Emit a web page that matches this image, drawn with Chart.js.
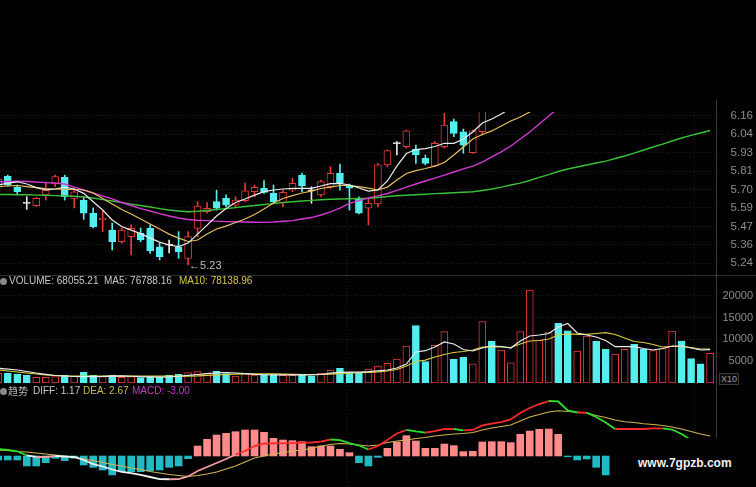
<!DOCTYPE html>
<html>
<head>
<meta charset="utf-8">
<script src="https://cdn.jsdelivr.net/npm/chart.js@4.4.0/dist/chart.umd.min.js"></script>
<style>
  html, body { margin: 0; padding: 0; background: #000; overflow: hidden; }
  #wrap { position: relative; width: 756px; height: 487px; background: #000; }
  canvas { position: absolute; left: 0; }
  .t { position: absolute; font: 10px "Liberation Sans", Arial, sans-serif; line-height: 12px; white-space: nowrap; }
  .dot { position: absolute; width: 7px; height: 7px; border-radius: 50%; background: #8a8a8a; }
  .sep { position: absolute; left: 0; width: 756px; height: 1px; background: #2e2e2e; }
</style>
</head>
<body>
<div id="wrap">
  <canvas id="price" width="756" height="184" style="top:100px"></canvas>
  <canvas id="vol" width="756" height="110" style="top:276px"></canvas>
  <canvas id="macd" width="756" height="101" style="top:386px"></canvas>

  <div class="sep" style="top:275px"></div>
  <div style="position:absolute;left:716px;top:100px;width:1px;height:338px;background:#3a3a3a"></div>

  <div class="dot" style="left:0;top:278px"></div>
  <span class="t" style="left:9px;top:275px;color:#c8c8c8">VOLUME: 68055.21</span>
  <span class="t" style="left:104px;top:275px;color:#c8c8c8">MA5: 76788.16</span>
  <span class="t" style="left:179px;top:275px;color:#d6c64c">MA10: 78138.96</span>
  <span class="t" style="left:719px;top:373px;color:#9a9a9a;font-size:9px;line-height:10px;border:1px solid #3a3a3a;padding:0 1px;background:#0a0a0a">X10</span>

  <div class="dot" style="left:0;top:388px"></div>
  <span class="t" style="left:8px;top:385px;color:#b8b8b8;font-family:'Noto Sans CJK SC',sans-serif">趋势</span>
  <span class="t" style="left:33px;top:385px;color:#c8c8c8">DIFF: 1.17</span>
  <span class="t" style="left:83px;top:385px;color:#cdbb52">DEA: 2.67</span>
  <span class="t" style="left:132px;top:385px;color:#c23cc2">MACD: -3.00</span>

  <div style="position:absolute;left:611px;top:438px;width:145px;height:49px;background:#000"></div>
  <span class="t" style="left:638px;top:456px;color:#f2f2f2;font-weight:bold;font-size:12px;line-height:14px">www.7gpzb.com</span>
</div>

<script>
// candles (only the part that is inside the price window)
const opens  = [5.716,5.784,5.714,5.615,5.599,5.666,5.734,5.776,5.645,5.634,5.552,5.510,5.447,5.374,5.406,5.427,5.458,5.343,5.355,5.341,5.271,5.458,5.562,5.624,5.645,5.603,5.630,5.686,5.707,5.676,5.618,5.696,5.790,5.694,5.666,5.717,5.801,5.728,5.639,5.583,5.610,5.853,5.986,5.967,5.951,5.894,5.846,5.967,6.123,6.060,5.929,6.060];
const closes = [5.765,5.728,5.686,5.613,5.645,5.696,5.780,5.655,5.686,5.552,5.468,5.522,5.374,5.447,5.458,5.385,5.318,5.281,5.353,5.312,5.406,5.597,5.583,5.583,5.603,5.634,5.692,5.714,5.682,5.624,5.682,5.739,5.722,5.691,5.749,5.801,5.739,5.709,5.552,5.614,5.853,5.942,5.986,6.066,5.915,5.863,5.988,6.102,6.050,5.977,6.066,6.200];
const highs  = [5.775,5.790,5.728,5.655,5.650,5.740,5.790,5.790,5.709,5.655,5.585,5.566,5.491,5.460,5.479,5.460,5.479,5.366,5.385,5.437,5.437,5.624,5.618,5.696,5.666,5.655,5.740,5.728,5.755,5.728,5.696,5.770,5.803,5.717,5.759,5.842,5.859,5.734,5.655,5.645,5.863,5.946,5.998,6.071,5.977,5.915,5.998,6.175,6.139,6.077,6.071,6.250];
const lows   = [5.700,5.722,5.666,5.576,5.595,5.634,5.717,5.634,5.585,5.514,5.460,5.437,5.323,5.366,5.292,5.374,5.302,5.261,5.304,5.271,5.230,5.406,5.552,5.572,5.593,5.593,5.624,5.655,5.676,5.614,5.593,5.686,5.686,5.614,5.655,5.707,5.696,5.572,5.547,5.479,5.593,5.842,5.915,5.957,5.863,5.853,5.842,5.957,6.029,5.926,5.926,6.040];

const ma5  = [5.728,5.740,5.748,5.734,5.712,5.697,5.703,5.715,5.703,5.676,5.624,5.572,5.510,5.469,5.447,5.425,5.397,5.372,5.354,5.344,5.366,5.422,5.478,5.535,5.581,5.619,5.641,5.665,5.687,5.697,5.703,5.707,5.707,5.707,5.722,5.737,5.738,5.728,5.709,5.690,5.697,5.753,5.846,5.924,5.949,5.955,5.968,5.988,5.988,6.015,6.058,6.114,6.139,6.170,6.208,6.245];
const ma10 = [5.718,5.722,5.725,5.718,5.712,5.706,5.703,5.701,5.700,5.697,5.678,5.644,5.609,5.575,5.547,5.516,5.485,5.454,5.422,5.397,5.376,5.385,5.422,5.454,5.472,5.494,5.516,5.544,5.578,5.616,5.644,5.662,5.678,5.690,5.706,5.715,5.725,5.725,5.718,5.709,5.697,5.715,5.759,5.800,5.818,5.831,5.846,5.868,5.915,5.965,6.015,6.043,6.065,6.096,6.127,6.152,6.183,6.214];
const ma20 = [5.748,5.750,5.751,5.750,5.747,5.743,5.740,5.734,5.715,5.697,5.678,5.659,5.641,5.619,5.600,5.581,5.566,5.550,5.535,5.522,5.513,5.508,5.506,5.503,5.500,5.499,5.497,5.496,5.495,5.497,5.502,5.506,5.516,5.525,5.541,5.560,5.584,5.613,5.631,5.647,5.660,5.675,5.694,5.715,5.734,5.753,5.771,5.790,5.809,5.828,5.846,5.871,5.903,5.934,5.971,6.015,6.058,6.108,6.158,6.208];
const ma60 = [5.669,5.669,5.667,5.667,5.665,5.664,5.662,5.661,5.658,5.653,5.647,5.637,5.628,5.619,5.609,5.600,5.591,5.581,5.572,5.566,5.561,5.564,5.569,5.575,5.581,5.587,5.594,5.600,5.606,5.612,5.619,5.624,5.628,5.632,5.636,5.639,5.641,5.642,5.644,5.645,5.650,5.656,5.661,5.664,5.667,5.670,5.674,5.677,5.680,5.683,5.686,5.694,5.703,5.715,5.728,5.740,5.756,5.775,5.793,5.812,5.828,5.840,5.853,5.865,5.877,5.893,5.909,5.927,5.946,5.965,5.983,6.002,6.021,6.037,6.052,6.068];

// volume (axis units, x10)
const volume = [2230,2230,2070,1770,1310,1310,1450,1840,1610,2460,1770,1450,1840,1310,1450,1220,1310,1310,1840,2000,2370,2600,2230,2760,2150,1610,2230,1840,1840,1900,1770,1770,2070,1610,2230,2990,3370,2370,2370,3220,3900,4520,5500,8500,13160,4900,8650,11800,5440,5900,4430,14080,9650,7580,4660,11800,21360,9880,11600,13700,12000,7350,10800,9650,7740,6660,7740,8880,7740,7420,7880,11940,9650,5580,4430,6806];
const volUp  = [1,0,0,0,1,1,1,0,1,0,0,1,0,1,1,0,0,0,0,0,1,1,1,0,0,1,1,1,0,0,1,1,0,0,1,1,0,0,0,1,1,1,1,1,0,0,1,1,0,0,1,1,0,1,1,1,1,1,1,0,0,1,1,0,0,1,1,0,0,1,1,1,0,0,0,1];
const volMa5  = [3380,3200,2990,2640,2300,2000,1720,1610,1490,1450,1450,1500,1600,1650,1550,1450,1400,1350,1400,1550,1750,1950,2150,2350,2400,2300,2150,2000,1900,1850,1850,1850,1850,1850,1950,2250,2450,2500,2500,2600,2800,2990,3450,4360,7120,7420,8270,9420,8960,7700,7350,8040,8500,8380,8040,9650,10800,11030,11370,12860,13670,11490,11030,10570,9760,8340,8340,8340,7920,7580,7920,8500,8500,8040,7580,7679];
const volMa10 = [2990,2760,2530,2300,2070,1840,1720,1610,1610,1600,1600,1600,1600,1600,1600,1600,1600,1600,1600,1600,1600,1650,1750,1850,1950,2050,2100,2100,2100,2100,2050,2000,1950,1950,1950,2050,2150,2250,2350,2450,2550,2760,3100,3900,4940,5240,5970,6550,7000,7240,7580,8270,8340,8270,8150,8960,9650,9760,10110,11030,11260,11190,11190,11370,11550,11140,10340,9530,9300,8840,8270,8380,8380,8150,7810,7814];

// MACD
const diff = [0.93,0.80,0.63,0.07,-0.13,-0.13,0,-0.07,-0.13,-0.53,-1.07,-1.4,-1.8,-2.13,-2.27,-2.53,-2.8,-3.07,-3.1,-3.07,-2.73,-2.0,-1.47,-0.93,-0.4,0.2,0.67,1.33,1.67,1.69,1.69,1.73,1.77,1.8,1.93,2.2,2.13,1.73,1.4,0.87,1.33,2.13,3.0,3.47,3.27,3.11,3.33,3.6,3.6,3.43,3.47,4.07,4.33,4.53,4.87,5.73,6.4,6.93,7.33,7.27,6.07,5.77,5.78,5.2,4.47,3.6,3.6,3.6,3.6,3.67,3.69,3.53,2.93,2.13,1.6,1.17];
const dea  = [0.8,0.73,0.6,0.53,0.4,0.27,0.13,0,-0.13,-0.4,-0.6,-0.87,-1.13,-1.33,-1.6,-1.8,-2.07,-2.27,-2.47,-2.6,-2.73,-2.6,-2.4,-2.13,-1.73,-1.33,-0.8,-0.27,0,0.27,0.47,0.67,0.8,1.0,1.33,1.53,1.67,1.6,1.47,1.33,1.47,1.8,2.0,2.13,2.33,2.47,2.67,2.8,2.93,3.0,3.13,3.47,3.73,3.93,4.13,4.67,5.2,5.53,5.87,6.04,5.93,5.87,5.73,5.4,5.13,4.8,4.57,4.47,4.31,4.2,4.07,3.87,3.6,3.27,2.93,2.67];
const macd = [-0.53,-0.53,-0.53,-1.33,-1.33,-0.89,-0.3,-0.62,-0.3,-1.2,-1.51,-1.87,-2.53,-2.09,-2.09,-2.09,-1.96,-1.87,-1.51,-1.33,-0.36,1.33,2.22,2.8,3.02,3.24,3.47,3.47,3.16,2.36,2.13,2.04,1.91,1.24,1.33,1.33,0.89,0.44,-0.9,-1.33,-0.18,1.02,1.87,2.71,2.0,1.02,1.02,1.6,1.38,0.58,0.62,1.87,1.91,1.91,1.78,2.89,3.33,3.56,3.6,2.89,-0.1,-0.53,-0.4,-1.51,-2.53,null,null,null,null,null,null,null,null,null,null,-3.0];

// axes
const priceTicks = [5.24,5.355,5.47,5.585,5.70,5.815,5.93,6.045,6.16];
const priceTickLabels = ['5.24','5.36','5.47','5.59','5.70','5.81','5.93','6.04','6.16'];
const volTicks = [5000,10000,15000,20000];
const gridBreaks = [18.3, 55];

const UP = '#e23b3b', DOWN = '#55eeee', DOJI = '#e8e8e8';
const GRID = '#1d1d1d', TICK = '#8c8c8c';

const pts = arr => arr.map((v, i) => v == null ? null : {x: i, y: v}).filter(p => p);

function candleColor(i) {
    if (Math.abs(closes[i] - opens[i]) < 0.004) return DOJI;
    return closes[i] > opens[i] ? UP : DOWN;
}

function xAxis() {
    return {
        type: 'linear', min: 0.18, max: 75.73, offset: false,
        afterBuildTicks: s => { s.ticks = gridBreaks.map(v => ({value: v})); },
        ticks: {display: false},
        grid: {color: GRID, drawTicks: false},
        border: {display: false, dash: [1, 2]},
        afterFit: s => { s.height = 0; }
    };
}

function yAxis(extra) {
    return Object.assign({
        position: 'right',
        grid: {color: GRID, drawTicks: false},
        border: {display: false, dash: [1, 2]},
        afterFit: s => { s.width = 36; s.paddingTop = 0; s.paddingBottom = 0; }
    }, extra);
}

function options(y, padding) {
    return {
        responsive: false, animation: false, devicePixelRatio: 1, events: [],
        layout: {padding: padding},
        plugins: {legend: {display: false}, tooltip: {enabled: false}},
        scales: {x: xAxis(), y: y}
    };
}

function maLine(data, color, width) {
    return {
        type: 'line', data: pts(data), borderColor: color, borderWidth: width || 1.2,
        pointRadius: 0, fill: false, tension: 0, clip: 0
    };
}

// little "←5.23" marker at the lowest low
const lowMark = {
    id: 'lowMark',
    afterDatasetsDraw(chart) {
        const lo = Math.min(...lows);
        const i = lows.indexOf(lo);
        const ctx = chart.ctx;
        ctx.save();
        ctx.font = '11px "Liberation Sans", Arial, sans-serif';
        ctx.fillStyle = '#bdbdbd';
        ctx.textBaseline = 'middle';
        ctx.fillText('\u2190' + lo.toFixed(2), chart.scales.x.getPixelForValue(i) + 1, chart.scales.y.getPixelForValue(lo) + 1);
        ctx.restore();
    }
};

new Chart(document.getElementById('price'), {
    type: 'bar',
    data: {
        datasets: [
            maLine(ma5, '#ececec'),
            maLine(ma10, '#e2c062'),
            maLine(ma20, '#d23ad2', 1.4),
            maLine(ma60, '#38c038', 1.4),
            {
                data: opens.map((o, i) => ({x: i, y: [o, closes[i]]})),
                backgroundColor: c => candleColor(c.dataIndex) === UP ? '#000' : candleColor(c.dataIndex),
                borderColor: c => candleColor(c.dataIndex),
                borderWidth: 1, borderSkipped: false, barThickness: 7, minBarLength: 1,
                grouped: false, clip: 0
            },
            {
                data: lows.map((l, i) => ({x: i, y: [l, highs[i]]})),
                backgroundColor: c => candleColor(c.dataIndex),
                borderWidth: 0, barThickness: 1, grouped: false, clip: 0
            }
        ]
    },
    options: options(yAxis({
        min: 5.167, max: 6.183,
        afterBuildTicks: s => { s.ticks = priceTicks.map(v => ({value: v})); },
        ticks: {
            color: TICK, font: {size: 11.5, family: '"Liberation Sans", Arial'},
            crossAlign: 'far', padding: 0,
            callback: (v, i) => priceTickLabels[i]
        }
    }), {top: 12, bottom: 9, left: 0, right: 3}),
    plugins: [lowMark]
});

new Chart(document.getElementById('vol'), {
    type: 'bar',
    data: {
        datasets: [
            maLine(volMa5, '#ececec'),
            maLine(volMa10, '#d8cc3c'),
            {
                data: pts(volume),
                backgroundColor: c => volUp[c.dataIndex] ? '#000' : DOWN,
                borderColor: c => volUp[c.dataIndex] ? UP : DOWN,
                borderWidth: 1, borderSkipped: false, barThickness: 7, grouped: false, clip: 0
            }
        ]
    },
    options: options(yAxis({
        min: 0, max: 24575,
        afterBuildTicks: s => { s.ticks = volTicks.map(v => ({value: v})); },
        ticks: {
            color: TICK, font: {size: 11, family: '"Liberation Sans", Arial'},
            crossAlign: 'far', padding: 0,
            callback: v => String(v)
        }
    }), {top: 0, bottom: 3, left: 0, right: 3})
});

new Chart(document.getElementById('macd'), {
    type: 'bar',
    data: {
        datasets: [
            {
                type: 'line', data: pts(diff), borderWidth: 1.8, pointRadius: 0, tension: 0, clip: 0,
                borderColor: '#ff2a2a',
                segment: {
                    borderColor: s => {
                        const a = s.p0.parsed.y, b = s.p1.parsed.y;
                        if (b < 0 || a < 0) return b >= a ? '#f4a0a0' : '#f2f2f2';
                        return b >= a ? '#ff2a2a' : '#2ee02e';
                    }
                }
            },
            maLine(dea, '#cdb552', 1.1),
            {
                data: pts(macd),
                backgroundColor: c => c.raw.y >= 0 ? '#ff8a8a' : '#22b9c2',
                borderWidth: 0, barThickness: 7, grouped: false, clip: 0
            }
        ]
    },
    options: options(yAxis({
        min: -4.133, max: 9.333,
        ticks: {display: false},
        grid: {display: false}
    }), {top: 0, bottom: 0, left: 0, right: 3})
});
</script>
</body>
</html>
